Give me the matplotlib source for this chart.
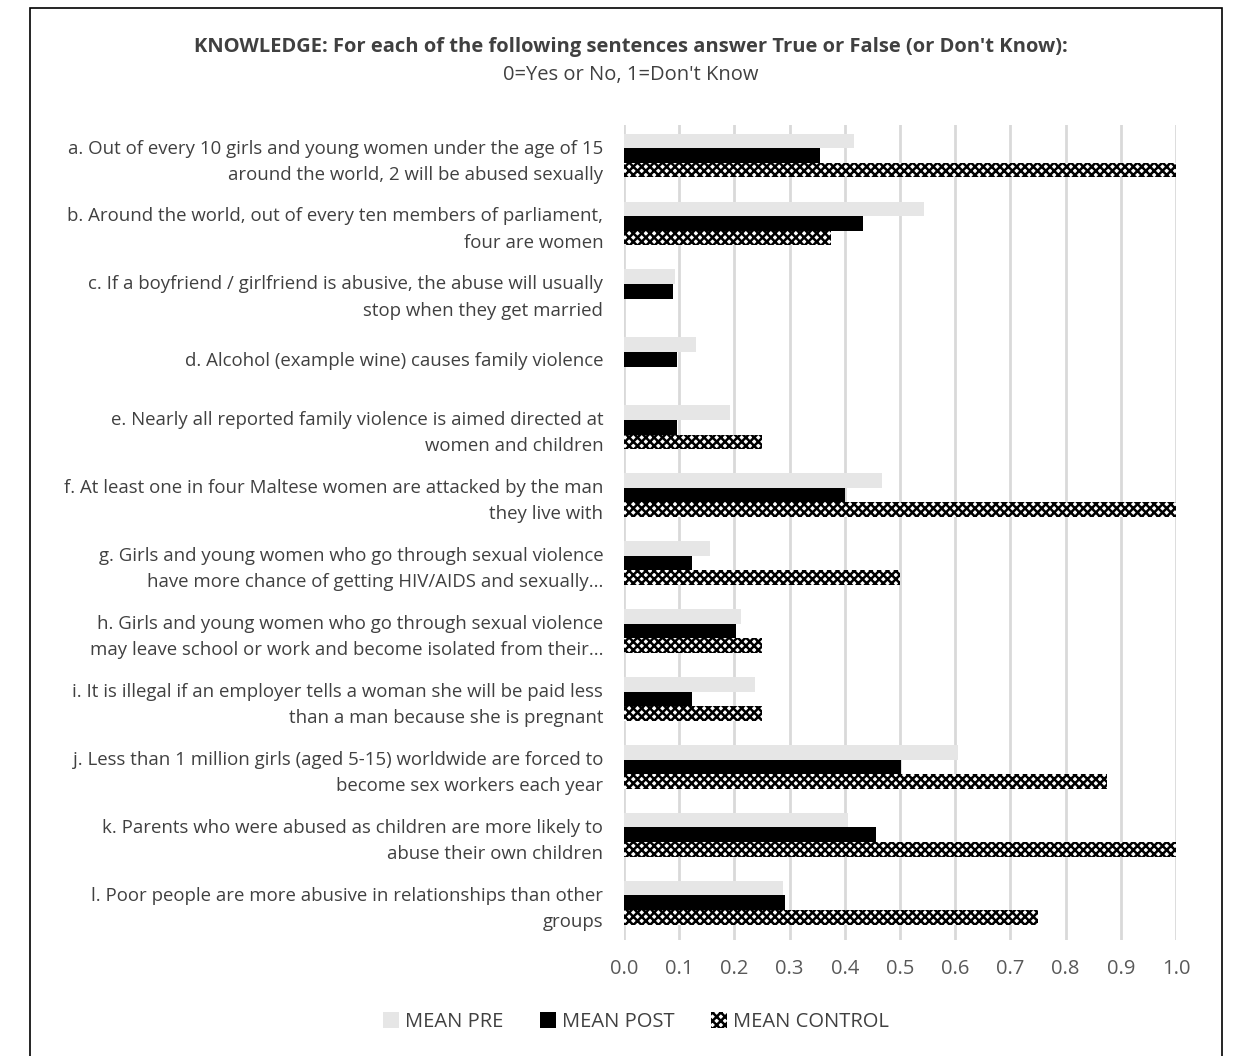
import matplotlib.pyplot as plt
import numpy as np
from matplotlib.patches import Rectangle

# Statement labels (wrapped as shown on the axis)
statements = [
    'a. Out of every 10 girls and young women under the age of 15\naround the world, 2 will be abused sexually',
    'b. Around the world, out of every ten members of parliament,\nfour are women',
    'c. If a boyfriend / girlfriend is abusive, the abuse will usually\nstop when they get married',
    'd. Alcohol (example wine) causes family violence',
    'e. Nearly all reported family violence is aimed directed at\nwomen and children',
    'f. At least one in four Maltese women are attacked by the man\nthey live with',
    'g. Girls and young women who go through sexual violence\nhave more chance of getting HIV/AIDS and sexually...',
    'h. Girls and young women who go through sexual violence\nmay leave school or work and become isolated from their...',
    'i. It is illegal if an employer tells a woman she will be paid less\nthan a man because she is pregnant',
    'j. Less than 1 million girls (aged 5-15) worldwide are forced to\nbecome sex workers each year',
    'k. Parents who were abused as children are more likely to\nabuse their own children',
    'l. Poor people are more abusive in relationships than other\ngroups',
]

mean_pre = [0.417, 0.543, 0.092, 0.13, 0.192, 0.467, 0.156, 0.212, 0.237, 0.605, 0.406, 0.288]
mean_post = [0.355, 0.433, 0.089, 0.096, 0.096, 0.40, 0.123, 0.203, 0.123, 0.502, 0.457, 0.292]
mean_control = [1.0, 0.375, 0.0, 0.0, 0.25, 1.0, 0.5, 0.25, 0.25, 0.875, 1.0, 0.75]

xticks = [0.0, 0.1, 0.2, 0.3, 0.4, 0.5, 0.6, 0.7, 0.8, 0.9, 1.0]

text_color = '#404040'
plt.rcParams['font.family'] = ['Open Sans', 'DejaVu Sans']
plt.rcParams['hatch.linewidth'] = 1.8

fig = plt.figure(figsize=(12.45, 10.56), dpi=100)
ax = fig.add_axes([624 / 1245, 1 - 940 / 1056, 552 / 1245, 815 / 1056])

y = np.arange(len(statements))
h = 0.215
ax.barh(y - h, mean_pre, height=h, color='#e6e6e6', label='MEAN PRE', zorder=2)
ax.barh(y, mean_post, height=h, color='black', label='MEAN POST', zorder=2)
ax.barh(y + h, mean_control, height=h, color='white', edgecolor='black',
        hatch='xxxx', linewidth=0, label='MEAN CONTROL', zorder=2)

ax.set_xlim(0, 1.0)
ax.set_ylim(len(statements) - 0.45, -0.45)
ax.set_xticks(xticks)
ax.set_xticklabels([f'{t:.1f}' for t in xticks], fontsize=14.5, color='#595959')
ax.set_yticks(y)
ax.set_yticklabels(statements, fontsize=13.4, color=text_color, linespacing=1.58)
ax.tick_params(axis='both', length=0)
ax.tick_params(axis='y', pad=15)
ax.tick_params(axis='x', pad=14)
ax.grid(axis='x', color='#d9d9d9', linewidth=2, zorder=0)
for s in ax.spines.values():
    s.set_visible(False)

# Title, bold first line then regular subtitle
fig.text(631 / 1245, 1 - 47 / 1056,
         "KNOWLEDGE: For each of the following sentences answer True or False (or Don't Know):",
         ha='center', va='center', fontsize=14.5, fontweight='bold', color=text_color)
fig.text(631 / 1245, 1 - 75 / 1056, "0=Yes or No, 1=Don't Know",
         ha='center', va='center', fontsize=14.5, color=text_color)

leg = fig.legend(loc='center', bbox_to_anchor=(636 / 1245, 1 - 1022 / 1056), ncol=3,
                 frameon=False, fontsize=14.5, handlelength=0.8, handleheight=0.8,
                 handletextpad=0.3, columnspacing=1.8)
for t in leg.get_texts():
    t.set_color(text_color)

# Outer chart frame
fig.patches.append(Rectangle((30 / 1245, -0.02), (1222 - 30) / 1245, 1 - 8 / 1056 + 0.02,
                             transform=fig.transFigure, fill=False,
                             edgecolor='black', linewidth=1.2))

fig.savefig('out.png', dpi=100)
